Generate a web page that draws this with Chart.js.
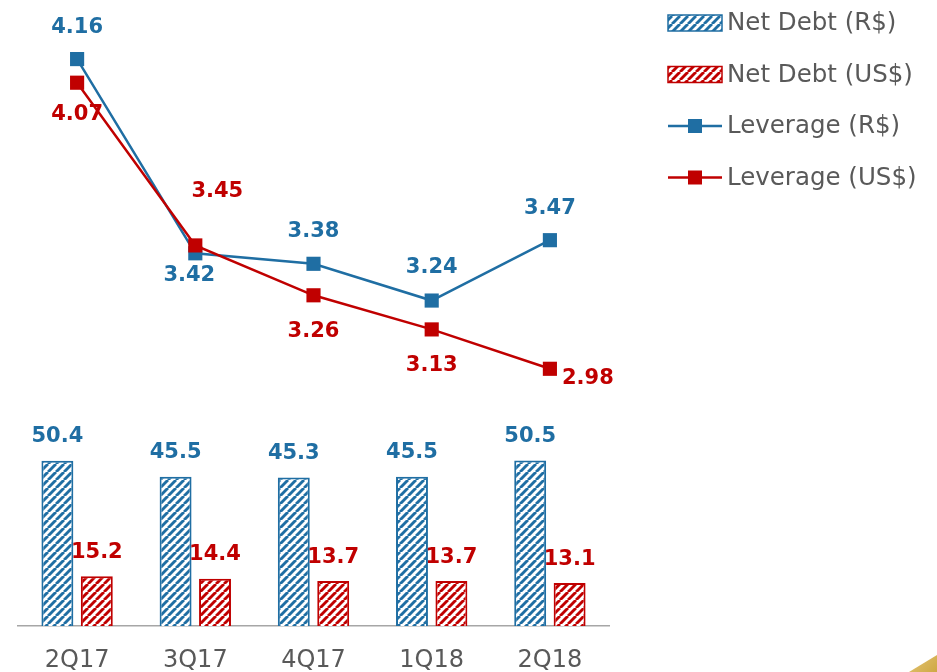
<!DOCTYPE html>
<html>
<head>
<meta charset="utf-8">
<script src="https://cdn.jsdelivr.net/npm/chart.js@4.4.0/dist/chart.umd.min.js"></script>
<style>
  html, body { margin: 0; padding: 0; background: #fff; overflow: hidden; }
  #wrap { position: relative; width: 937px; height: 672px; }
  #corner { position: absolute; right: 0; bottom: 0; width: 28px; height: 17px;
            background: linear-gradient(135deg, #e3c575, #cfa844);
            clip-path: polygon(100% 0, 100% 100%, 0 100%); }
</style>
</head>
<body>
<div id="wrap">
  <canvas id="chart" width="937" height="672"></canvas>
  <div id="corner"></div>
</div>
<script>
// ---- data ----
const quarters = ["2Q17", "3Q17", "4Q17", "1Q18", "2Q18"];
const netDebtBRL = [50.4, 45.5, 45.3, 45.5, 50.5];
const netDebtUSD = [15.2, 14.4, 13.7, 13.7, 13.1];
const leverageBRL = [4.16, 3.42, 3.38, 3.24, 3.47];
const leverageUSD = [4.07, 3.45, 3.26, 3.13, 2.98];

// ---- label placement (style only, dx/dy from point) ----
const offsetsBRL = [[0, -32], [-6, 22], [0, -32], [0, -33], [0, -32]];
const offsetsUSD = [[0, 32], [22, -54], [0, 36], [0, 36], [38, 10]];

const BLUE = "#1f6ea3";
const RED = "#c00000";
const GRAY = "#595959";
const FONT = '"DejaVu Sans", sans-serif';

function stripes(color) {
  const t = document.createElement("canvas");
  t.width = 8; t.height = 8;
  const c = t.getContext("2d");
  c.fillStyle = "#fff";
  c.fillRect(0, 0, 8, 8);
  c.strokeStyle = color;
  c.lineWidth = 2.9;
  [-8, 0, 8].forEach((o) => {
    c.beginPath();
    c.moveTo(o, 8);
    c.lineTo(o + 8, 0);
    c.stroke();
  });
  return c.createPattern(t, "repeat");
}

const ctx = document.getElementById("chart").getContext("2d");
const blueFill = stripes(BLUE);
const redFill = stripes(RED);

const valueLabels = {
  id: "valueLabels",
  afterDatasetsDraw(chart) {
    const c = chart.ctx;
    c.save();
    c.font = "bold 21px " + FONT;
    c.textAlign = "center";
    c.textBaseline = "middle";
    chart.data.datasets.forEach((ds, i) => {
      const meta = chart.getDatasetMeta(i);
      c.fillStyle = ds.borderColor;
      meta.data.forEach((el, j) => {
        const v = ds.data[j];
        if (ds.type === "bar") {
          c.fillText(v.toFixed(1), el.x, el.y - 24);
        } else {
          const off = ds.labelOffsets[j];
          c.fillText(v.toFixed(2), el.x + off[0], el.y + off[1]);
        }
      });
    });
    c.restore();
  }
};

const sideLegend = {
  id: "sideLegend",
  afterDraw(chart) {
    const c = chart.ctx;
    const x0 = 668, w = 54;
    chart.data.datasets.forEach((ds, i) => {
      const y = 23 + i * 51.5;
      c.save();
      if (ds.type === "bar") {
        c.fillStyle = ds.backgroundColor;
        c.fillRect(x0, y - 8, w, 16);
        c.strokeStyle = ds.borderColor;
        c.lineWidth = 1.5;
        c.strokeRect(x0, y - 8, w, 16);
      } else {
        c.strokeStyle = ds.borderColor;
        c.lineWidth = 2.5;
        c.beginPath();
        c.moveTo(x0, y);
        c.lineTo(x0 + w, y);
        c.stroke();
        c.fillStyle = ds.borderColor;
        c.fillRect(x0 + w / 2 - 7, y - 7, 14, 14);
      }
      c.fillStyle = GRAY;
      c.font = "24.5px " + FONT;
      c.textAlign = "left";
      c.textBaseline = "middle";
      c.fillText(ds.label, x0 + w + 5, y + 1);
      c.restore();
    });
  }
};

new Chart(ctx, {
  data: {
    labels: quarters,
    datasets: [
      { type: "bar", label: "Net Debt (R$)", data: netDebtBRL, yAxisID: "yBar", order: 3,
        backgroundColor: blueFill, borderColor: BLUE, borderWidth: 2,
        categoryPercentage: 0.667, barPercentage: 0.81 },
      { type: "bar", label: "Net Debt (US$)", data: netDebtUSD, yAxisID: "yBar", order: 4,
        backgroundColor: redFill, borderColor: RED, borderWidth: 2,
        categoryPercentage: 0.667, barPercentage: 0.81 },
      { type: "line", label: "Leverage (R$)", data: leverageBRL, yAxisID: "yLine", order: 2,
        borderColor: BLUE, backgroundColor: BLUE, borderWidth: 2.5, tension: 0,
        pointStyle: "rect", pointRadius: 10, pointBorderWidth: 0, labelOffsets: offsetsBRL },
      { type: "line", label: "Leverage (US$)", data: leverageUSD, yAxisID: "yLine", order: 1,
        borderColor: RED, backgroundColor: RED, borderWidth: 2.5, tension: 0,
        pointStyle: "rect", pointRadius: 10, pointBorderWidth: 0, labelOffsets: offsetsUSD }
    ]
  },
  options: {
    responsive: false,
    animation: false,
    layout: { padding: { left: 18, right: 328, top: 10, bottom: -24 } },
    plugins: { legend: { display: false }, tooltip: { enabled: false } },
    scales: {
      x: {
        offset: true,
        grid: { display: false, drawTicks: false },
        border: { display: true, color: "#a6a6a6", width: 1.5 },
        ticks: { color: GRAY, font: { family: FONT, size: 24, lineHeight: 1 }, padding: 23 }
      },
      yBar: { display: false, min: 0, max: 187.9 },
      yLine: { display: false, min: 2.0, max: 4.347 }
    }
  },
  plugins: [valueLabels, sideLegend]
});
</script>
</body>
</html>
